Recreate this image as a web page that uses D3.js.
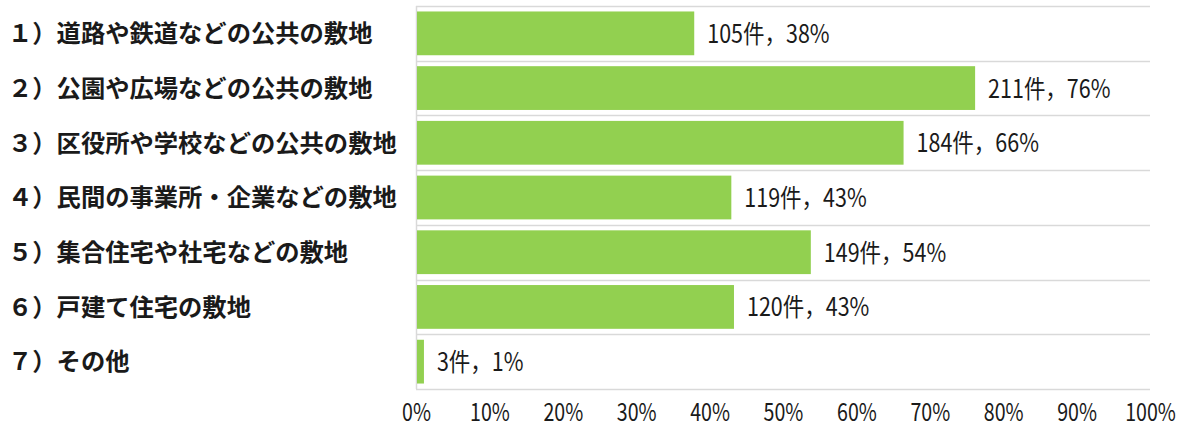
<!DOCTYPE html>
<html>
<head>
<meta charset="utf-8">
<script src="https://cdn.jsdelivr.net/npm/d3@7"></script>
<style>
  html, body { margin: 0; padding: 0; background: #ffffff; }
  svg { display: block; }
</style>
</head>
<body>
<svg id="chart" width="1179" height="428"></svg>
<script>
// Survey responses: land where the item is placed (multiple answers allowed)
const categories = [
  "１）道路や鉄道などの公共の敷地",
  "２）公園や広場などの公共の敷地",
  "３）区役所や学校などの公共の敷地",
  "４）民間の事業所・企業などの敷地",
  "５）集合住宅や社宅などの敷地",
  "６）戸建て住宅の敷地",
  "７）その他"
];
const counts = [105, 211, 184, 119, 149, 120, 3];
const respondents = 277;
const tickValues = [0, 0.1, 0.2, 0.3, 0.4, 0.5, 0.6, 0.7, 0.8, 0.9, 1.0];

const svg = d3.select("#chart");
const plotLeft = 416, plotRight = 1150, plotTop = 6, plotBottom = 389;

const x = d3.scaleLinear().domain([0, 1]).range([plotLeft, plotRight]);
const y = d3.scaleBand().domain(categories).range([plotTop, plotBottom]).paddingInner(0.2).paddingOuter(0.1);

const font = "'Noto Sans CJK JP', sans-serif";

// category separators
const step = y.step();
const bounds = d3.range(categories.length + 1).map(i => plotTop + i * step);
svg.append("g").selectAll("line").data(bounds).join("line")
  .attr("x1", plotLeft).attr("x2", plotRight)
  .attr("y1", d => Math.round(d) + 0.5).attr("y2", d => Math.round(d) + 0.5)
  .attr("stroke", "#d9d9d9").attr("stroke-width", 1.5);

// vertical axis line
svg.append("line")
  .attr("x1", plotLeft + 0.5).attr("x2", plotLeft + 0.5)
  .attr("y1", plotTop).attr("y2", plotBottom)
  .attr("stroke", "#d9d9d9").attr("stroke-width", 1.5);

// bars
const rows = categories.map((c, i) => ({ c, n: counts[i], p: counts[i] / respondents }));
svg.append("g").selectAll("rect").data(rows).join("rect")
  .attr("x", x(0) + 1)
  .attr("y", d => y(d.c))
  .attr("width", d => x(d.p) - x(0) - 1)
  .attr("height", y.bandwidth())
  .attr("fill", "#92d050");

// value labels (narrow numerals)
svg.append("g").selectAll("text").data(rows).join("text")
  .attr("transform", d => `translate(${x(d.p) + 13},${y(d.c) + y.bandwidth() / 2}) scale(0.86,1)`)
  .attr("dy", "0.38em")
  .attr("font-family", font)
  .attr("font-size", 25)
  .attr("fill", "#1a1a1a")
  .text(d => `${d.n}件，${Math.round(d.p * 100)}%`);

// category labels
svg.append("g").selectAll("text").data(categories).join("text")
  .attr("x", 8)
  .attr("y", d => y(d) + y.bandwidth() / 2)
  .attr("dy", "0.36em")
  .attr("font-family", font)
  .attr("font-weight", "bold")
  .attr("font-size", 24.3)
  .attr("fill", "#1a1a1a")
  .text(d => d);

// x axis
const xAxis = d3.axisBottom(x).tickValues(tickValues).tickFormat(d3.format(".0%")).tickSize(0).tickPadding(0);
const gx = svg.append("g").attr("transform", `translate(0, 421)`).call(xAxis);
gx.select(".domain").remove();
gx.selectAll("text")
  .attr("y", 0)
  .attr("dy", 0)
  .attr("transform", "scale(0.8,1)")
  .attr("font-family", font)
  .attr("font-size", 24.5)
  .attr("fill", "#1a1a1a");
</script>
</body>
</html>
